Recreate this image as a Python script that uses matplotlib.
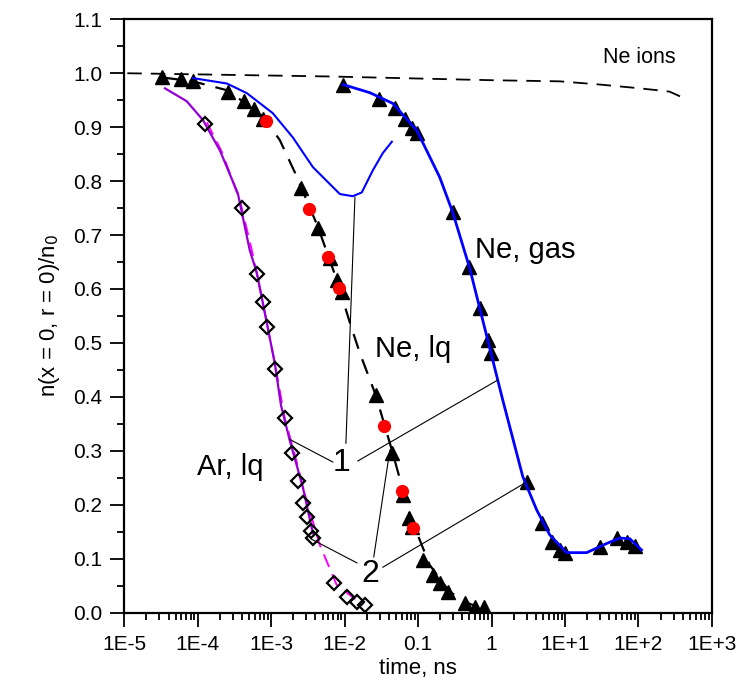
import matplotlib
matplotlib.use('Agg')
import matplotlib.pyplot as plt

plt.rcParams['font.family'] = ['Liberation Sans', 'DejaVu Sans']

# Ne ions (dashed)
ions_t = [1.1e-5, 6.3e-3, 1.07, 8.5, 30, 105, 263, 400]
ions_n = [1.0, 0.994, 0.987, 0.985, 0.979, 0.972, 0.966, 0.955]

# Ne, lq: experiment-like triangles
nelq_t = [3.26e-5, 5.9e-5, 8.6e-5, 2.58e-4, 4.26e-4, 5.8e-4, 7.7e-4, 2.54e-3, 4.3e-3,
          6.3e-3, 7.8e-3, 9.2e-3, 2.65e-2, 4.4e-2, 6.2e-2, 7.5e-2, 8.2e-2, 0.116,
          0.158, 0.197, 0.254, 0.43, 0.59, 0.78]
nelq_n = [0.993, 0.989, 0.985, 0.966, 0.948, 0.933, 0.916, 0.788, 0.713,
          0.658, 0.617, 0.595, 0.403, 0.296, 0.218, 0.175, 0.158, 0.097,
          0.069, 0.055, 0.038, 0.018, 0.010, 0.010]

# Ne, lq: dashed fit
nelq_fit_t = [3.37e-5, 8.6e-5, 2.58e-4, 7.7e-4, 1.31e-3, 2.1e-3, 4.3e-3, 7.8e-3,
              1.18e-2, 1.61e-2, 2.65e-2, 4.4e-2, 7.7e-2, 0.144, 0.27, 0.50, 0.86]
nelq_fit_n = [0.992, 0.985, 0.968, 0.92, 0.876, 0.816, 0.716, 0.617,
              0.537, 0.481, 0.403, 0.301, 0.181, 0.088, 0.038, 0.016, 0.006]

# Ne, lq: red dots
red_t = [8.5e-4, 3.26e-3, 5.9e-3, 8.3e-3, 3.41e-2, 6.0e-2, 8.47e-2]
red_n = [0.911, 0.748, 0.659, 0.601, 0.346, 0.225, 0.157]

# Ne, lq: blue model curve
nelq_b_t = [8.6e-5, 2.49e-4, 4.67e-4, 1.05e-3, 1.97e-3, 3.69e-3, 8.6e-3,
            1.29e-2, 1.71e-2, 2.42e-2, 3.31e-2, 4.39e-2]
nelq_b_n = [0.991, 0.981, 0.963, 0.926, 0.881, 0.826, 0.776,
            0.772, 0.779, 0.820, 0.852, 0.873]

# Ne, gas: triangles
negas_t = [9.5e-3, 2.92e-2, 4.82e-2, 6.59e-2, 8.2e-2, 9.6e-2, 0.296, 0.49, 0.69,
           0.887, 0.975, 3.01, 4.82, 6.59, 8.47, 9.9, 29.6, 50.5, 69, 88.7]
negas_n = [0.978, 0.953, 0.935, 0.916, 0.898, 0.889, 0.742, 0.640, 0.564,
           0.505, 0.481, 0.242, 0.166, 0.131, 0.116, 0.111, 0.121, 0.138, 0.131, 0.123]

# Ne, gas: blue curve
negas_c_t = [9.5e-3, 2.2e-2, 4.53e-2, 9.6e-2, 0.197, 0.296, 0.505, 0.887, 1.42,
             2.66, 4.12, 6.19, 10.5, 19.7, 36.9, 55.5, 75.9, 110]
negas_c_n = [0.979, 0.964, 0.944, 0.894, 0.807, 0.742, 0.638, 0.505, 0.394,
             0.252, 0.190, 0.144, 0.111, 0.111, 0.128, 0.138, 0.137, 0.116]

# Ar, lq: purple curve
ar_c_t = [3.58e-5, 7.1e-5, 1.18e-4, 2.0e-4, 3.52e-4, 5.1e-4, 6.4e-4, 7.7e-4,
          1.12e-3, 1.36e-3, 1.79e-3, 2.7e-3, 3.69e-3]
ar_c_n = [0.972, 0.948, 0.913, 0.857, 0.777, 0.672, 0.629, 0.574,
          0.462, 0.384, 0.319, 0.232, 0.147]

# Ar, lq: magenta dashed
ar_d_t = [1.33e-4, 2.13e-4, 3.75e-4, 5.46e-4, 7.7e-4, 1.12e-3, 1.53e-3, 2.1e-3,
          2.88e-3, 4.6e-3, 7.8e-3, 1.77e-2]
ar_d_n = [0.909, 0.854, 0.764, 0.671, 0.574, 0.462, 0.360, 0.292,
          0.218, 0.125, 0.051, 0.014]

# Ar, lq: open diamonds
ar_t = [1.25e-4, 3.99e-4, 6.4e-4, 7.7e-4, 8.7e-4, 1.12e-3, 1.53e-3, 1.91e-3, 2.31e-3,
        2.7e-3, 3.06e-3, 3.53e-3, 3.7e-3, 7.1e-3, 1.07e-2, 1.47e-2, 1.88e-2]
ar_n = [0.905, 0.750, 0.627, 0.575, 0.529, 0.451, 0.360, 0.295, 0.244,
        0.203, 0.177, 0.151, 0.138, 0.055, 0.029, 0.019, 0.014]

# pointer lines from labels "1" and "2"
lines_1 = [((6.9e-3, 1.79e-3), (0.279, 0.321)),
           ((1.04e-2, 1.38e-2), (0.314, 0.770)),
           ((1.51e-2, 1.21), (0.281, 0.431))]
lines_2 = [((1.47e-2, 3.53e-3), (0.092, 0.136)),
           ((2.49e-2, 4.12e-2), (0.103, 0.301)),
           ((3.31e-2, 2.83), (0.084, 0.240))]

fig = plt.figure(figsize=(7.42, 6.95), dpi=100)
ax = fig.add_axes([0.1675, 0.1187, 0.792, 0.8535])

ax.plot(ions_t, ions_n, color='black', lw=1.3, dashes=(8, 5))

ax.plot(ar_d_t, ar_d_n, color='#ff00ff', lw=1.4, dashes=(7, 4))
ax.plot(ar_c_t, ar_c_n, color='#9400d3', lw=1.6)
ax.plot(ar_t, ar_n, ls='none', marker='D', ms=7.5, mfc='none', mec='black', mew=1.6)

ax.plot(nelq_t, nelq_n, ls='none', marker='^', ms=10, color='black')
ax.plot(nelq_fit_t, nelq_fit_n, color='black', lw=1.6, dashes=(7, 5))
ax.plot(red_t, red_n, ls='none', marker='o', ms=8.5, color='#ff0000')
ax.plot(nelq_b_t, nelq_b_n, color='#0000ff', lw=1.5)

ax.plot(negas_t, negas_n, ls='none', marker='^', ms=10, color='black')
ax.plot(negas_c_t, negas_c_n, color='#0000ff', lw=2)

for xs, ys in lines_1 + lines_2:
    ax.plot(xs, ys, color='black', lw=0.8)

ax.text(104, 1.03, 'Ne ions', fontsize=15.5, ha='center', va='center')
ax.text(0.59, 0.672, 'Ne, gas', fontsize=21, ha='left', va='center')
ax.text(2.58e-2, 0.488, 'Ne, lq', fontsize=21, ha='left', va='center')
ax.text(9.75e-5, 0.269, 'Ar, lq', fontsize=21, ha='left', va='center')
ax.text(9.2e-3, 0.277, '1', fontsize=23, ha='center', va='center')
ax.text(2.2e-2, 0.071, '2', fontsize=23, ha='center', va='center')

ax.set_xscale('log')
ax.set_xlim(1e-5, 1e3)
ax.set_ylim(0, 1.1)
ax.set_xticks([1e-5, 1e-4, 1e-3, 1e-2, 0.1, 1, 10, 100, 1000])
ax.set_xticklabels(['1E-5', '1E-4', '1E-3', '1E-2', '0.1', '1', '1E+1', '1E+2', '1E+3'])
ax.xaxis.set_minor_locator(matplotlib.ticker.LogLocator(base=10, subs=range(2, 10), numticks=20))
ax.xaxis.set_minor_formatter(matplotlib.ticker.NullFormatter())
ax.set_yticks([i / 10 for i in range(12)])
ax.set_yticklabels(['%.1f' % (i / 10) for i in range(12)])
ax.yaxis.set_minor_locator(matplotlib.ticker.MultipleLocator(0.05))

ax.tick_params(which='major', direction='out', length=10, width=1.3, labelsize=15, pad=6)
ax.tick_params(which='minor', direction='out', length=5, width=1.3)
for s in ax.spines.values():
    s.set_linewidth(1.6)

ax.set_xlabel('time, ns', fontsize=16, labelpad=3)
ax.set_ylabel('n(x = 0, r = 0)/n$_0$', fontsize=16, labelpad=8)

fig.savefig('out.png', dpi=100)
